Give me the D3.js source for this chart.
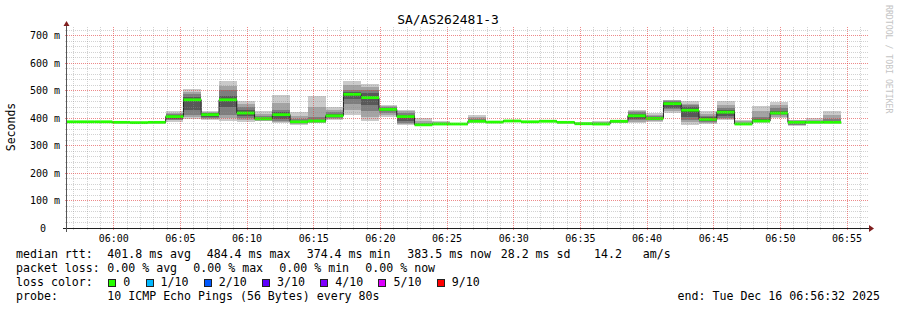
<!DOCTYPE html>
<html>
<head>
<meta charset="utf-8">
<script src="https://cdn.jsdelivr.net/npm/d3@7"></script>
<style>
  body { margin: 0; background: #fff; }
  svg text { font-family: "DejaVu Sans Mono", monospace; fill: #000; }
</style>
</head>
<body>
<svg id="chart" width="897" height="310"></svg>
<script>
// ----------------------
// data
// ----------------------
const titleText = "SA/AS262481-3";
const yLabelText = "Seconds";
const endTime = new Date(Date.UTC(2025, 11, 16, 6, 56, 32));
const startTime = new Date(+endTime - 3600 * 1000);
const stepSeconds = 80;
const firstStepStart = new Date(+startTime - 36 * 1000);
const yMax = 727;

// median rtt per 80s step (ms)
const medianMs = [
  386, 386, 386, 384, 383, 384, 405, 466, 412, 466,
  418, 397, 412, 386, 389, 408, 486, 474, 431, 405,
  375, 378, 378, 388, 385, 389, 386, 388, 384, 379,
  378, 388, 408, 398, 452, 428, 395, 421, 378, 389,
  418, 384, 384, 384
];

// the 10 sorted ping rtts per step (ms)
const pingsMs = [
  [384, 385, 385, 386, 386, 386, 386, 387, 387, 388],
  [384, 385, 385, 386, 386, 386, 386, 387, 387, 389],
  [384, 385, 385, 385, 386, 386, 386, 387, 387, 388],
  [382, 383, 383, 384, 384, 384, 384, 385, 385, 387],
  [381, 382, 382, 383, 383, 383, 383, 384, 384, 386],
  [382, 383, 383, 384, 384, 384, 384, 385, 386, 388],
  [386, 391, 393, 396, 402, 408, 412, 415, 419, 425],
  [398, 405, 410, 430, 462, 470, 478, 486, 494, 506],
  [393, 396, 400, 405, 410, 414, 417, 419, 421, 424],
  [388, 400, 412, 440, 462, 470, 480, 500, 515, 533],
  [385, 392, 400, 408, 414, 422, 430, 440, 450, 463],
  [388, 390, 392, 393, 395, 398, 401, 406, 413, 424],
  [382, 386, 390, 398, 409, 415, 422, 430, 455, 482],
  [376, 379, 381, 383, 384, 386, 388, 395, 408, 422],
  [381, 383, 385, 387, 388, 389, 392, 405, 440, 479],
  [393, 396, 399, 403, 406, 410, 414, 420, 430, 440],
  [410, 430, 450, 470, 483, 489, 495, 503, 518, 536],
  [390, 405, 425, 448, 470, 478, 490, 500, 512, 525],
  [405, 412, 418, 424, 429, 433, 437, 441, 445, 448],
  [373, 378, 382, 390, 402, 407, 412, 418, 424, 430],
  [370, 372, 373, 374, 374, 375, 376, 380, 388, 400],
  [374, 376, 377, 378, 378, 379, 380, 382, 385, 390],
  [375, 376, 377, 377, 378, 378, 379, 380, 381, 383],
  [382, 384, 385, 386, 387, 389, 391, 395, 402, 412],
  [382, 383, 384, 384, 385, 385, 386, 387, 388, 390],
  [385, 386, 387, 388, 388, 389, 390, 391, 392, 394],
  [383, 384, 385, 385, 386, 386, 387, 387, 388, 390],
  [384, 385, 386, 387, 388, 388, 389, 390, 391, 393],
  [381, 382, 383, 383, 384, 384, 385, 385, 386, 388],
  [376, 377, 377, 378, 379, 379, 380, 381, 382, 384],
  [374, 375, 376, 377, 378, 378, 380, 382, 385, 390],
  [380, 383, 385, 386, 387, 389, 390, 391, 392, 393],
  [380, 386, 392, 398, 405, 411, 416, 420, 425, 430],
  [386, 389, 391, 394, 396, 400, 404, 408, 412, 417],
  [418, 425, 432, 438, 448, 455, 458, 461, 464, 467],
  [376, 385, 392, 405, 422, 432, 440, 446, 452, 460],
  [378, 382, 386, 390, 393, 397, 402, 408, 415, 424],
  [392, 396, 400, 408, 418, 424, 430, 438, 448, 460],
  [374, 375, 376, 377, 378, 378, 380, 383, 388, 394],
  [382, 384, 386, 387, 388, 390, 395, 405, 425, 442],
  [400, 405, 409, 413, 416, 420, 426, 435, 446, 457],
  [371, 373, 376, 380, 383, 386, 388, 390, 392, 394],
  [380, 381, 382, 383, 384, 385, 386, 389, 394, 400],
  [380, 381, 382, 383, 384, 385, 387, 395, 410, 427]
];

const lossLabels = ["0", "1/10", "2/10", "3/10", "4/10", "5/10", "9/10"];
const lossColors = ["#26ff00", "#00b8ff", "#0059ff", "#5e00ff", "#7e00ff", "#dd00ff", "#ff0000"];

const rttStats = ["401.8 ms avg", "484.4 ms max", "374.4 ms min", "383.5 ms now", "28.2 ms sd", "14.2", "am/s"];
const lossStats = ["0.00 % avg", "0.00 % max", "0.00 % min", "0.00 % now"];
const probeText = "10 ICMP Echo Pings (56 Bytes) every 80s";
const endText = "end: Tue Dec 16 06:56:32 2025";

// ----------------------
// layout
// ----------------------
const svg = d3.select("#chart");
const W = 897, H = 310;
const plot = { left: 67, top: 28, width: 800, height: 200 };
const x0 = plot.left, x1 = plot.left + plot.width;
const yBase = plot.top + plot.height, yTop = plot.top;

const x = d3.scaleUtc().domain([startTime, endTime]).range([x0, x1]);
const y = d3.scaleLinear().domain([0, yMax]).range([yBase, yTop]);

svg.append("rect").attr("width", W).attr("height", H).attr("fill", "#fff");

svg.append("clipPath").attr("id", "plotclip")
  .append("rect")
  .attr("x", x0).attr("y", yTop)
  .attr("width", plot.width).attr("height", plot.height);

const dataG = svg.append("g").attr("clip-path", "url(#plotclip)");

const steps = medianMs.map((m, i) => ({
  t0: new Date(+firstStepStart + i * stepSeconds * 1000),
  t1: new Date(+firstStepStart + (i + 1) * stepSeconds * 1000),
  median: m,
  pings: pingsMs[i]
}));

// smoke: outer pair lightest, inner pair darkest (smokeping greys)
const half = 5;
for (let b = 0; b < half; b++) {
  const g = Math.floor(190 / half * (half - 1 - b)) + 50;
  dataG.selectAll(null)
    .data(steps)
    .enter()
    .append("rect")
    .attr("x", d => x(d.t0))
    .attr("width", d => x(d.t1) - x(d.t0))
    .attr("y", d => y(d.pings[9 - b]))
    .attr("height", d => Math.max(0, y(d.pings[b]) - y(d.pings[9 - b])))
    .attr("fill", d3.rgb(g, g, g))
    .attr("shape-rendering", "crispEdges");
}

// median line
const last = steps[steps.length - 1];
const medPts = steps.map(d => [x(d.t0), y(d.median)]).concat([[x(last.t1), y(last.median)]]);
dataG.append("path")
  .attr("d", d3.line().curve(d3.curveStepAfter)(medPts))
  .attr("fill", "none")
  .attr("stroke", "#202020")
  .attr("stroke-width", 1);

// loss coloured median band (all 0 loss here)
const swidth = 1.4 * yMax / plot.height;
dataG.selectAll("rect.med")
  .data(steps)
  .enter()
  .append("rect")
  .attr("class", "med")
  .attr("x", d => x(d.t0))
  .attr("width", d => x(d.t1) - x(d.t0))
  .attr("y", d => y(d.median + swidth))
  .attr("height", d => y(d.median - swidth) - y(d.median + swidth))
  .attr("fill", lossColors[0]);

// ----------------------
// grid (drawn over the data, like rrdtool)
// ----------------------
const gridG = svg.append("g");
const px = v => Math.round(v) + 0.5;

const minorY = d3.range(0, yMax, 20).filter(v => v % 100 !== 0);
const majorY = d3.range(0, yMax, 100).filter(v => v > 0);
const minorX = x.ticks(d3.utcMinute.every(1)).filter(t => t.getUTCMinutes() % 5 !== 0);
const majorX = x.ticks(d3.utcMinute.every(5));

const gridColor = "rgba(143,143,143,0.4)";
const mgridColor = "rgba(225,60,60,0.6)";

gridG.selectAll("line.gy").data(minorY).enter().append("line")
  .attr("x1", x0 - 2).attr("x2", x1 + 2)
  .attr("y1", d => px(y(d))).attr("y2", d => px(y(d)))
  .attr("stroke", gridColor)
  .attr("stroke-dasharray", "1,1");
gridG.selectAll("line.gx").data(minorX).enter().append("line")
  .attr("y1", yBase + 2).attr("y2", yTop - 2)
  .attr("x1", d => px(x(d))).attr("x2", d => px(x(d)))
  .attr("stroke", gridColor)
  .attr("stroke-dasharray", "1,1");
gridG.selectAll("line.my").data(majorY).enter().append("line")
  .attr("x1", x0 - 2).attr("x2", x1 + 2)
  .attr("y1", d => px(y(d))).attr("y2", d => px(y(d)))
  .attr("stroke", mgridColor)
  .attr("stroke-dasharray", "1,1");
gridG.selectAll("line.mx").data(majorX).enter().append("line")
  .attr("y1", yBase + 2).attr("y2", yTop - 2)
  .attr("x1", d => px(x(d))).attr("x2", d => px(x(d)))
  .attr("stroke", mgridColor)
  .attr("stroke-dasharray", "1,1");

// ----------------------
// axes + arrows
// ----------------------
const axisColor = "#1f1f1f";
const arrowColor = "#801f1f";
gridG.append("line")
  .attr("x1", x0 - 4).attr("x2", x1 + 4)
  .attr("y1", px(yBase)).attr("y2", px(yBase))
  .attr("stroke", axisColor);
gridG.append("line")
  .attr("x1", px(x0) - 1).attr("x2", px(x0) - 1)
  .attr("y1", yBase + 4).attr("y2", yTop - 4)
  .attr("stroke", "#555");
svg.append("path")
  .attr("d", `M${x1 + 2},${yBase - 3}L${x1 + 2},${yBase + 4}L${x1 + 7},${yBase + 0.5}Z`)
  .attr("fill", arrowColor);
svg.append("path")
  .attr("d", `M${x0 - 3.5},${yTop - 2}L${x0 + 2.5},${yTop - 2}L${x0 - 0.5},${yTop - 7}Z`)
  .attr("fill", arrowColor);

const yAxis = svg.append("g")
  .attr("transform", `translate(${x0},0)`)
  .call(d3.axisLeft(y)
    .tickValues(d3.range(0, 701, 100))
    .tickSize(0)
    .tickPadding(7)
    .tickFormat(d => d === 0 ? "0" : d + " m"));
yAxis.select(".domain").remove();
yAxis.selectAll("text")
  .attr("font-size", 10)
  .attr("font-family", "DejaVu Sans Mono")
  .attr("dx", d => d === 0 ? -14 : 0);

const xAxis = svg.append("g")
  .attr("transform", `translate(0,${yBase})`)
  .call(d3.axisBottom(x)
    .ticks(d3.utcMinute.every(5))
    .tickSize(0)
    .tickPadding(7)
    .tickFormat(d3.utcFormat("%H:%M")));
xAxis.select(".domain").remove();
xAxis.selectAll("text")
  .attr("font-size", 10)
  .attr("font-family", "DejaVu Sans Mono");

// ----------------------
// texts
// ----------------------
svg.append("text")
  .attr("x", 448).attr("y", 24)
  .attr("text-anchor", "middle")
  .attr("font-size", 13)
  .text(titleText);

svg.append("text")
  .attr("transform", "translate(15,127) rotate(-90)")
  .attr("text-anchor", "middle")
  .attr("font-size", 11.5)
  .text(yLabelText);

svg.append("text")
  .attr("transform", "translate(886,5) rotate(90)")
  .attr("font-size", 8.2)
  .style("fill", "#c4c4c4")
  .text("RRDTOOL / TOBI OETIKER");

const legendFont = 11.6;
const lineY = [257.5, 271.7, 285.9, 300.1];
const leg = (txt, lx, ly, anchor) => svg.append("text")
  .attr("x", lx).attr("y", ly)
  .attr("font-size", legendFont)
  .attr("text-anchor", anchor || "start")
  .text(txt);

// line 1
leg("median rtt:", 16, lineY[0]);
const rttX = [107.3, 206.7, 306.7, 407.3, 500.7, 594, 642.7];
rttStats.forEach((s, i) => leg(s, rttX[i], lineY[0]));

// line 2
leg("packet loss:", 16, lineY[1]);
lossStats.forEach((s, i) => leg(s, 107.3 + i * 86, lineY[1]));

// line 3
leg("loss color:", 16, lineY[2]);
let bx = 108.3;
lossLabels.forEach((lab, i) => {
  svg.append("rect")
    .attr("x", Math.round(bx) + 0.5).attr("y", 279.5)
    .attr("width", 7).attr("height", 7)
    .attr("fill", lossColors[i])
    .attr("stroke", "#222").attr("stroke-width", 1);
  const t = leg(lab, bx + 15, lineY[2]);
  bx = bx + 15 + t.node().getComputedTextLength() + 15.3;
});

// line 4
leg("probe:", 16, lineY[3]);
leg(probeText, 107.3, lineY[3]);
leg(endText, 880, lineY[3], "end");
</script>
</body>
</html>
